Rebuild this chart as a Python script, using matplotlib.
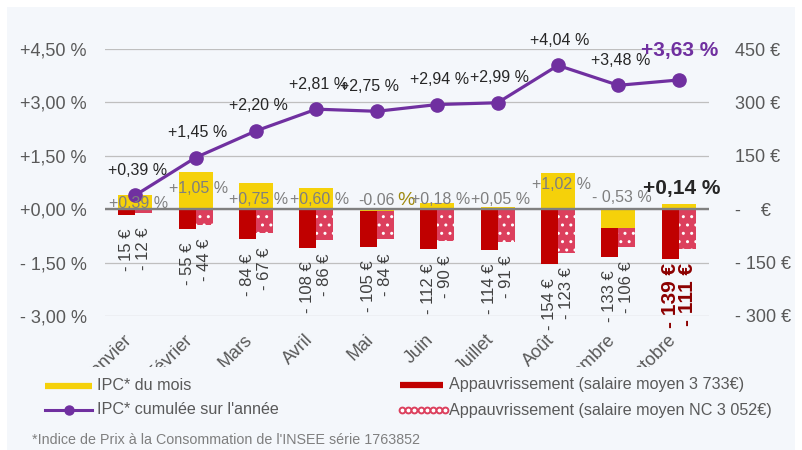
import matplotlib
matplotlib.use('Agg')
import matplotlib.pyplot as plt
from matplotlib.patches import Rectangle
from matplotlib.lines import Line2D
import numpy as np

# ---------------- data ----------------
months = ['Janvier', 'Février', 'Mars', 'Avril', 'Mai', 'Juin', 'Juillet',
          'Août', 'Septembre', 'Octobre']
ipc_mois = [0.39, 1.05, 0.75, 0.60, -0.06, 0.18, 0.05, 1.02, -0.53, 0.14]
ipc_cumul = [0.39, 1.45, 2.20, 2.81, 2.75, 2.94, 2.99, 4.04, 3.48, 3.63]
appauv_moyen = [-15, -55, -84, -108, -105, -112, -114, -154, -133, -139]
appauv_nc = [-12, -44, -67, -86, -84, -90, -91, -123, -106, -111]

left_ticks = [-3.0, -1.5, 0.0, 1.5, 3.0, 4.5]
left_ticklabels = ['- 3,00 %', '- 1,50 %', '+0,00 %', '+1,50 %', '+3,00 %', '+4,50 %']
right_ticks = [-300, -150, 0, 150, 300, 450]
right_ticklabels = ['- 300 €', '- 150 €', '-    €', '150 €', '300 €', '450 €']

legend_labels = ['IPC* du mois', "IPC* cumulée sur l'année",
                 'Appauvrissement (salaire moyen 3 733€)',
                 'Appauvrissement (salaire moyen NC 3 052€)']
footnote = "*Indice de Prix à la Consommation de l'INSEE série 1763852"

# label placement (layout only, in % units)
mois_label_y = [0.17, 0.59, 0.28, 0.28, 0.25, 0.28, 0.28, 0.70, 0.34, 0.59]

# ---------------- style ----------------
YELLOW = '#F5D10A'
PURPLE = '#7030A0'
RED = '#C00000'
PINK = '#DC3F5D'
PANEL = '#F4F7FB'
GREY = '#595959'
plt.rcParams['font.family'] = ['Liberation Sans', 'DejaVu Sans']
plt.rcParams['hatch.linewidth'] = 1.0

W, H = 803, 450
def X(px):
    return px / W
def Y(py):
    return 1 - py / H

def fmt_pct(v):
    s = f"{abs(v):.2f}".replace('.', ',')
    return ('+' + s + ' %') if v >= 0 else ('- ' + s + ' %')

def fmt_eur(v):
    return ('- ' if v < 0 else '') + f"{abs(v)} €"

fig = plt.figure(figsize=(W / 100, H / 100), dpi=100)
fig.patch.set_facecolor('white')
fig.add_artist(Rectangle((X(7), 0), X(795) - X(7), Y(7), transform=fig.transFigure,
                         facecolor=PANEL, edgecolor='none', zorder=-5))

ax = fig.add_axes([X(105), Y(316), X(709) - X(105), Y(49) - Y(316)])
ax2 = ax.twinx()
ax.set_zorder(2)
ax2.set_zorder(1)
ax.patch.set_visible(False)
ax2.patch.set_visible(False)

x = np.arange(len(months))
w = 0.56

ax2.bar(x - w / 4, appauv_moyen, width=w / 2, color=RED, linewidth=0, zorder=2)
ax2.bar(x + w / 4, appauv_nc, width=w / 2, color=PINK, edgecolor='white',
        hatch='..', linewidth=0, zorder=2)
ax2.set_ylim(-300, 450)
ax2.set_yticks(right_ticks, right_ticklabels, fontsize=13, color=GREY)
ax2.tick_params(axis='y', length=0, pad=19)
ax2.yaxis.grid(True, color='#BFBFBF', lw=0.9)
ax2.set_axisbelow(True)

ax.bar(x, ipc_mois, width=w, color=YELLOW, linewidth=0, zorder=2)
ax.axhline(0, color='#808080', lw=1.7, zorder=3)
ax.plot(x, ipc_cumul, color=PURPLE, lw=2.3, marker='o', ms=9.5, zorder=4, clip_on=False)

ax.set_xlim(-0.5, len(months) - 0.5)
ax.set_ylim(-3.0, 4.5)
ax.set_yticks(left_ticks, left_ticklabels, fontsize=13, color=GREY)
ax.tick_params(axis='y', length=0, pad=13)
ax.set_xticks(x, months, rotation=45, ha='right', fontsize=13, color=GREY)
ax.tick_params(axis='x', length=0, pad=11)
for a in (ax, ax2):
    for s in a.spines.values():
        s.set_visible(False)

# line labels
n = len(months)
for i, v in enumerate(ipc_cumul):
    if i == n - 1:
        ax.annotate(fmt_pct(v), (i, v), xytext=(1, 29), textcoords='offset pixels',
                    ha='center', va='center', fontsize=15, fontweight='bold',
                    color=PURPLE, zorder=6, annotation_clip=False)
    else:
        dx = -7 if i == 4 else 2
        ax.annotate(fmt_pct(v), (i, v), xytext=(dx, 25), textcoords='offset pixels',
                    ha='center', va='center', fontsize=11.5, color='#262626',
                    zorder=6, annotation_clip=False)

# monthly labels
for i, v in enumerate(ipc_mois):
    if i == n - 1:
        ax.text(i + 0.04, mois_label_y[i], fmt_pct(v), ha='center', va='center',
                fontsize=15, fontweight='bold', color='#262626', zorder=6)
    elif i == 4:
        ax.text(i + 0.0, mois_label_y[i], f"{v:.2f}", ha='center', va='center',
                fontsize=11.5, color='#7F7F7F', zorder=6)
        ax.annotate('%', (i, mois_label_y[i]), xytext=(20, 0), textcoords='offset pixels',
                    ha='left', va='center', fontsize=14, color='#A08A10', zorder=6)
    else:
        ax.text(i + 0.05, mois_label_y[i], fmt_pct(v), ha='center', va='center',
                fontsize=11.5, color='#7F7F7F', zorder=6)

# euro labels
for i, (a, b) in enumerate(zip(appauv_moyen, appauv_nc)):
    last = (i == n - 1)
    kw = dict(fontsize=15, fontweight='bold', color='#8C0000') if last else \
        dict(fontsize=12, color='#404040')
    ax2.annotate(fmt_eur(a), (i - w / 4, a), xytext=(0, -14 if not last else -4),
                 textcoords='offset pixels', rotation=90, ha='center', va='top',
                 annotation_clip=False, **kw)
    ax2.annotate(fmt_eur(b), (i + w / 4, b), xytext=(0, -14),
                 textcoords='offset pixels', rotation=90, ha='center', va='top',
                 annotation_clip=False, **kw)

# cover for legend area (clips month labels like the original)
fig.add_artist(Rectangle((X(7), 0), X(795) - X(7), Y(367), transform=fig.transFigure,
                         facecolor=PANEL, edgecolor='none', zorder=5))

# legend
tf = fig.transFigure
fig.add_artist(Line2D([X(45), X(92)], [Y(386)] * 2, color=YELLOW, lw=4.5,
                      transform=tf, zorder=7, solid_capstyle='butt'))
fig.add_artist(Line2D([X(45), X(69), X(92)], [Y(410)] * 3, color=PURPLE, lw=2.2,
                      marker='o', markevery=[1], ms=6.5, transform=tf, zorder=7))
fig.add_artist(Line2D([X(400), X(443)], [Y(385)] * 2, color=RED, lw=4.5,
                      transform=tf, zorder=7, solid_capstyle='butt'))
fig.add_artist(Line2D([X(p) for p in np.arange(402, 446, 6.2)], [Y(410)] * 8,
                      color=PINK, lw=0, marker='o', ms=4.2, mfc='white', mec=PINK,
                      mew=1.4, transform=tf, zorder=7))
lt = dict(va='center', ha='left', fontsize=11.6, color=GREY, zorder=7)
fig.text(X(97), Y(386), legend_labels[0], **lt)
fig.text(X(97), Y(410), legend_labels[1], **lt)
fig.text(X(449), Y(385), legend_labels[2], **lt)
fig.text(X(449), Y(410), legend_labels[3], **lt)
fig.text(X(32), Y(440), footnote, va='center', ha='left', fontsize=10.3,
         color='#7F7F7F', zorder=7)

fig.savefig('out.png', dpi=100, facecolor='white')
